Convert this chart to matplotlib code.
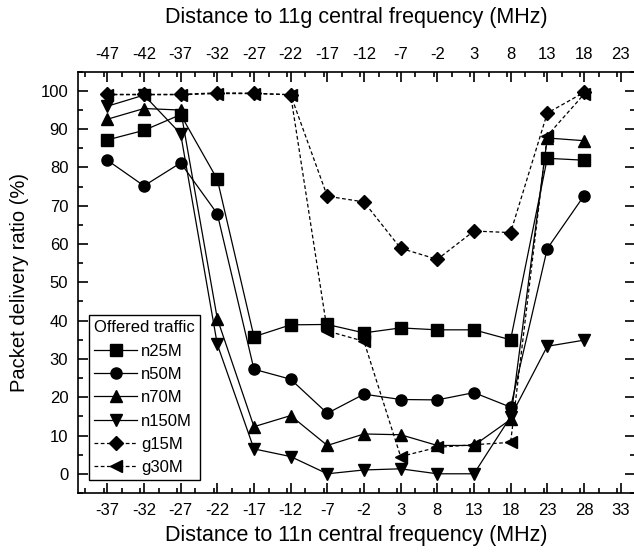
import matplotlib
matplotlib.use("Agg")
from matplotlib import pyplot as plt
from matplotlib.ticker import MultipleLocator
import numpy as np

plt.rcParams['font.family'] = ['Liberation Sans', 'DejaVu Sans']
plt.rcParams['axes.unicode_minus'] = False

# x positions (distance to 11n central frequency, MHz)
freq_n = [-37, -32, -27, -22, -17, -12, -7, -2, 3, 8, 13, 18, 23, 28]

n25M = [87.2, 89.7, 93.8, 76.9, 35.8, 38.9, 39.0, 36.8, 38.1, 37.6, 37.6, 35.0, 82.4, 81.9]
n50M = [81.9, 75.2, 81.2, 67.9, 27.3, 24.7, 15.8, 20.8, 19.4, 19.3, 21.2, 17.4, 58.8, 72.6]
n70M = [92.6, 95.4, 95.0, 40.5, 12.3, 15.2, 7.4, 10.4, 10.2, 7.4, 7.4, 14.2, 87.7, 87.0]
n150M = [96.0, 98.9, 88.8, 33.8, 6.5, 4.5, 0.0, 1.0, 1.3, 0.0, 0.0, 14.9, 33.3, 34.9]
g15M = [99.1, 99.1, 99.1, 99.5, 99.4, 99.0, 72.5, 71.0, 58.9, 56.0, 63.4, 63.0, 94.2, 99.6]
g30M = [99.0, 99.0, 99.0, 99.3, 99.3, 99.0, 37.3, 34.6, 4.5, 6.9, 7.6, 8.2, 88.3, 99.1]

series = [
    ("n25M", n25M, "s", "-"),
    ("n50M", n50M, "o", "-"),
    ("n70M", n70M, "^", "-"),
    ("n150M", n150M, "v", "-"),
    ("g15M", g15M, "D", (0, (3, 2))),
    ("g30M", g30M, "<", (0, (3, 2))),
]

fig = plt.figure(figsize=(6.34, 5.52), dpi=100)
ax = fig.add_axes([0.123, 0.107, 0.879, 0.763])

for name, vals, mk, ls in series:
    ms = 7 if mk == "D" else 8
    ax.plot(freq_n, vals, color="black", linestyle=ls, linewidth=0.9,
            marker=mk, markersize=ms, label=name)

ax.set_xlim(-41, 35)
ax.set_ylim(-5, 105)
ax.xaxis.set_minor_locator(MultipleLocator(2.5))
ax.set_xticks(np.arange(-37, 34, 5))
ax.yaxis.set_minor_locator(MultipleLocator(5))
ax.set_yticks(np.arange(0, 101, 10))

ax.tick_params(which="both", direction="in", right=True, labelsize=12, width=1.2)
ax.tick_params(which="major", length=7, pad=7)
ax.tick_params(which="minor", length=3.5)
for s in ax.spines.values():
    s.set_linewidth(1.2)
ax.spines['top'].set_visible(False)

top = ax.secondary_xaxis("top", functions=(lambda x: x - 10, lambda x: x + 10))
top.set_xticks(np.arange(-47, 24, 5))
top.xaxis.set_minor_locator(MultipleLocator(2.5))
top.tick_params(which="both", direction="in", labelsize=12, width=1.2)
top.tick_params(which="major", length=7, pad=7)
top.tick_params(which="minor", length=3.5)
top.spines['top'].set_linewidth(1.2)
top.set_xlabel("Distance to 11g central frequency (MHz)", fontsize=15.5, labelpad=17)

ax.set_xlabel("Distance to 11n central frequency (MHz)", fontsize=15.5, labelpad=5)
ax.set_ylabel("Packet delivery ratio (%)", fontsize=14.5, labelpad=8)

leg = ax.legend(loc="lower left", bbox_to_anchor=(0.02, 0.03), borderaxespad=0,
                title="Offered traffic", fontsize=12, title_fontsize=12,
                numpoints=1, handlelength=2.6, handletextpad=0.2,
                labelspacing=0.5, borderpad=0.3, fancybox=False,
                edgecolor="black", framealpha=1)
leg._legend_box.align = "left"
leg.get_frame().set_linewidth(1.0)

fig.savefig("out.png", dpi=100)
